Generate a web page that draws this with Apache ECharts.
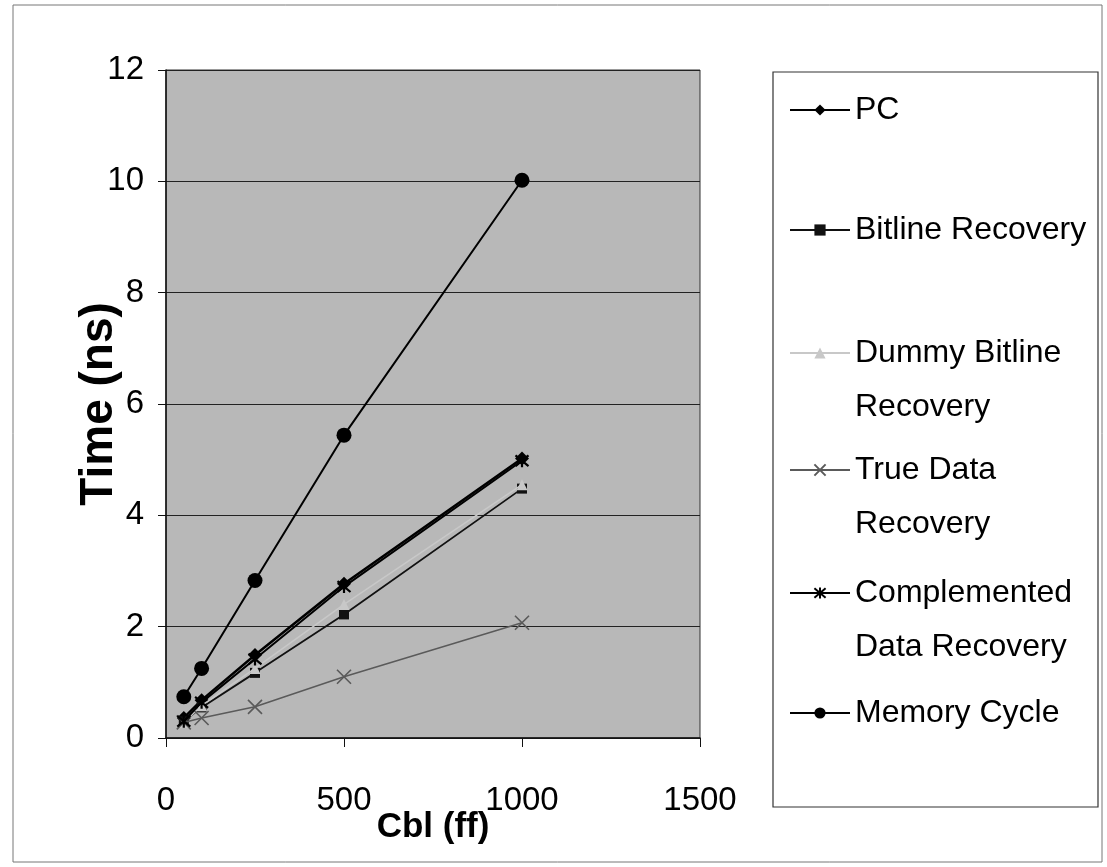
<!DOCTYPE html>
<html>
<head>
<meta charset="utf-8">
<script src="https://cdn.jsdelivr.net/npm/echarts@6/dist/echarts.min.js"></script>
<style>html,body{margin:0;padding:0;background:#fff;}#c{width:1107px;height:867px;}</style>
</head>
<body>
<div id="c"></div>
<script>
const cbl = [50, 100, 250, 500, 1000];
const pc = [0.36, 0.68, 1.49, 2.77, 5.02];
const bitline = [0.30, 0.55, 1.17, 2.22, 4.48];
const dummyBitline = [0.28, 0.58, 1.25, 2.40, 4.55];
const trueData = [0.28, 0.36, 0.56, 1.10, 2.07];
const complemented = [0.30, 0.64, 1.42, 2.72, 4.98];
const memoryCycle = [0.74, 1.25, 2.83, 5.44, 10.02];
const xTicks = [0, 500, 1000, 1500];
const yTicks = [0, 2, 4, 6, 8, 10, 12];
const seriesNames = ['PC', 'Bitline Recovery', 'Dummy Bitline Recovery', 'True Data Recovery', 'Complemented Data Recovery', 'Memory Cycle'];
const legendLabels = ['PC', 'Bitline Recovery', '\nDummy Bitline\nRecovery', '\nTrue Data\nRecovery', '\nComplemented\nData Recovery', 'Memory Cycle'];

const FONT = "'Liberation Sans', Arial, Helvetica, sans-serif";
const pts = arr => cbl.map((x, i) => [x, arr[i]]);

const chart = echarts.init(document.getElementById('c'), null, {renderer: 'canvas'});

const styles = [
  {data: pc, color: '#000', width: 2.5, symbol: 'diamond', size: 14, border: 0},
  {data: bitline, color: '#111', width: 1.8, symbol: 'rect', size: 10, border: 0},
  {data: dummyBitline, color: '#c8c8c8', width: 1.5, symbol: 'triangle', size: 11, border: 0},
  {data: trueData, color: '#5a5a5a', width: 1.5, symbol: 'path://M0,0L10,10M10,0L0,10', size: 14, border: 1.6},
  {data: complemented, color: '#000', width: 2, symbol: 'path://M0,0L10,10M10,0L0,10M5,-1L5,11', size: 13, border: 2.2},
  {data: memoryCycle, color: '#000', width: 2, symbol: 'circle', size: 15, border: 0}
];

const series = styles.map((s, i) => ({
  name: seriesNames[i],
  type: 'line',
  data: pts(s.data),
  symbol: s.symbol,
  symbolSize: s.size,
  showAllSymbol: true,
  lineStyle: {color: s.color, width: s.width},
  itemStyle: {color: s.color, borderColor: s.color, borderWidth: s.border},
  emphasis: {disabled: true},
  z: 3 + i
}));

const centers = [110, 230, 353, 470, 593, 713];
const legends = seriesNames.map((n, i) => {
  const multi = legendLabels[i].indexOf('\n') >= 0;
  return {
    orient: 'vertical',
    left: 789,
    top: multi ? centers[i] - 81 : centers[i] - 27,
    padding: 0,
    itemWidth: 60,
    itemHeight: 14,
    data: [n],
    formatter: () => legendLabels[i],
    textStyle: {fontFamily: FONT, fontSize: 32, color: '#000', lineHeight: 54}
  };
});

chart.setOption({
  backgroundColor: '#fff',
  animation: false,
  grid: {left: 166, top: 70, right: 407, bottom: 129, show: true, backgroundColor: '#b8b8b8', borderColor: '#333', borderWidth: 1},
  xAxis: {
    type: 'value', min: xTicks[0], max: xTicks[xTicks.length - 1], interval: 500,
    name: 'Cbl (ff)', nameLocation: 'middle', nameGap: 72, nameMoveOverlap: false,
    nameTextStyle: {fontFamily: FONT, fontSize: 35, fontWeight: 'bold', color: '#000'},
    axisLine: {show: true, lineStyle: {color: '#111', width: 1.5}},
    axisTick: {show: true, inside: false, length: 9, lineStyle: {color: '#111'}},
    splitLine: {show: false},
    axisLabel: {fontFamily: FONT, fontSize: 33, color: '#000', margin: 46, formatter: v => String(v)}
  },
  yAxis: {
    type: 'value', min: yTicks[0], max: yTicks[yTicks.length - 1], interval: 2,
    name: 'Time (ns)', nameLocation: 'middle', nameGap: 44, nameRotate: 90, nameMoveOverlap: false,
    nameTextStyle: {fontFamily: FONT, fontSize: 46, fontWeight: 'bold', color: '#000'},
    axisLine: {show: true, lineStyle: {color: '#111', width: 1.5}},
    axisTick: {show: true, inside: false, length: 8, lineStyle: {color: '#111'}},
    splitLine: {show: true, lineStyle: {color: '#222', width: 1}},
    axisLabel: {fontFamily: FONT, fontSize: 33, color: '#000', margin: 22, formatter: v => String(v)}
  },
  legend: legends,
  graphic: [
    {type: 'rect', shape: {x: 13, y: 5, width: 1089, height: 857}, style: {fill: 'none', stroke: '#777', lineWidth: 1}, z: -1},
    {type: 'rect', shape: {x: 773, y: 72, width: 325, height: 735}, style: {fill: '#fff', stroke: '#333', lineWidth: 1.2}, z: -1}
  ],
  series: series
});
</script>
</body>
</html>
